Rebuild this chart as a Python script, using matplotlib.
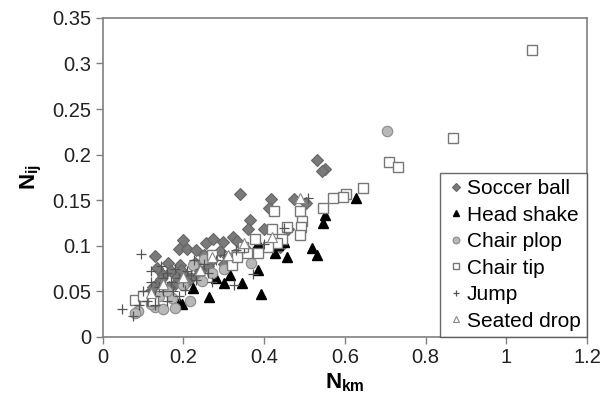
import matplotlib.pyplot as plt

plt.rcParams['font.family'] = ['Liberation Sans', 'DejaVu Sans']
plt.rcParams['mathtext.fontset'] = 'custom'
plt.rcParams['mathtext.rm'] = 'Liberation Sans'
plt.rcParams['mathtext.bf'] = 'Liberation Sans:bold'

# Nkm vs Nij for each test type
soccer_x = [0.531, 0.550, 0.543, 0.340, 0.417, 0.474, 0.503, 0.412, 0.365, 0.360, 0.400,
            0.200, 0.188, 0.210, 0.255, 0.273, 0.297, 0.322, 0.332, 0.310, 0.327, 0.129,
            0.161, 0.134, 0.191, 0.228, 0.270, 0.150, 0.170, 0.200, 0.220, 0.240, 0.260,
            0.140, 0.180, 0.120, 0.290, 0.350, 0.380, 0.250, 0.230, 0.440, 0.460, 0.300,
            0.145, 0.165, 0.185, 0.210, 0.235, 0.110, 0.125, 0.195]
soccer_y = [0.194, 0.184, 0.182, 0.157, 0.151, 0.151, 0.147, 0.141, 0.128, 0.119, 0.118,
            0.106, 0.096, 0.097, 0.103, 0.107, 0.104, 0.110, 0.105, 0.088, 0.088, 0.089,
            0.081, 0.076, 0.079, 0.081, 0.085, 0.068, 0.072, 0.070, 0.065, 0.072, 0.078,
            0.060, 0.058, 0.050, 0.094, 0.099, 0.095, 0.090, 0.095, 0.099, 0.118, 0.080,
            0.064, 0.055, 0.066, 0.060, 0.068, 0.046, 0.055, 0.073]

shake_x = [0.627, 0.550, 0.546, 0.518, 0.531, 0.456, 0.427, 0.384, 0.434, 0.384, 0.392,
           0.345, 0.300, 0.280, 0.263, 0.315, 0.223, 0.188, 0.196, 0.450]
shake_y = [0.152, 0.134, 0.125, 0.098, 0.090, 0.088, 0.092, 0.103, 0.101, 0.073, 0.047,
           0.059, 0.059, 0.065, 0.044, 0.068, 0.054, 0.037, 0.036, 0.104]

plop_x = [0.704, 0.367, 0.245, 0.216, 0.171, 0.129, 0.149, 0.087, 0.079, 0.223, 0.270,
          0.198, 0.140, 0.160, 0.300, 0.120, 0.180, 0.250, 0.330]
plop_y = [0.226, 0.081, 0.061, 0.039, 0.043, 0.033, 0.031, 0.028, 0.026, 0.079, 0.070,
          0.057, 0.045, 0.050, 0.075, 0.036, 0.032, 0.086, 0.091]

tip_x = [1.064, 0.868, 0.709, 0.731, 0.645, 0.603, 0.595, 0.571, 0.546, 0.489, 0.494,
         0.491, 0.489, 0.456, 0.419, 0.424, 0.444, 0.431, 0.409, 0.377, 0.357, 0.384,
         0.320, 0.332, 0.347, 0.079, 0.100, 0.125, 0.270]
tip_y = [0.315, 0.218, 0.192, 0.186, 0.163, 0.157, 0.154, 0.152, 0.142, 0.138, 0.127,
         0.121, 0.112, 0.121, 0.118, 0.138, 0.107, 0.103, 0.099, 0.107, 0.092, 0.092,
         0.079, 0.088, 0.099, 0.041, 0.045, 0.040, 0.090]

jump_x = [0.047, 0.074, 0.095, 0.508, 0.325, 0.372, 0.100, 0.120, 0.130, 0.140, 0.150,
          0.160, 0.170, 0.180, 0.190, 0.200, 0.210, 0.220, 0.230, 0.240, 0.250, 0.260,
          0.280, 0.300, 0.330, 0.350, 0.110, 0.130, 0.160, 0.190, 0.450, 0.400, 0.090,
          0.120, 0.150, 0.270, 0.175, 0.205, 0.145, 0.225]
jump_y = [0.031, 0.023, 0.091, 0.152, 0.057, 0.069, 0.050, 0.060, 0.045, 0.055, 0.065,
          0.070, 0.060, 0.075, 0.065, 0.060, 0.072, 0.068, 0.062, 0.075, 0.080, 0.070,
          0.085, 0.090, 0.095, 0.098, 0.040, 0.035, 0.040, 0.045, 0.120, 0.102, 0.035,
          0.072, 0.050, 0.060, 0.050, 0.052, 0.078, 0.085]

drop_x = [0.150, 0.200, 0.270, 0.310, 0.490, 0.350, 0.240, 0.120, 0.420]
drop_y = [0.058, 0.066, 0.088, 0.090, 0.152, 0.103, 0.073, 0.048, 0.110]

fig = plt.figure(figsize=(6.04, 4.07), dpi=100)
ax = fig.add_axes([0.170, 0.172, 0.802, 0.784])

ax.plot(soccer_x, soccer_y, 'D', ms=6.2, mfc='#7a7a7a', mec='#666666', mew=0.8,
        ls='none', label='Soccer ball')
ax.plot(shake_x, shake_y, '^', ms=7.5, mfc='black', mec='black', ls='none',
        label='Head shake')
ax.plot(plop_x, plop_y, 'o', ms=7.5, mfc='#b8b8b8', mec='#8a8a8a', mew=0.8,
        ls='none', label='Chair plop')
ax.plot(tip_x, tip_y, 's', ms=7.5, mfc='white', mec='#777777', mew=1.0,
        ls='none', label='Chair tip')
ax.plot(jump_x, jump_y, '+', ms=7.5, mec='#555555', mew=0.9, ls='none', label='Jump')
ax.plot(drop_x, drop_y, '^', ms=6.5, mfc='white', mec='#888888', mew=0.8,
        ls='none', label='Seated drop')

ax.set_xlim(0, 1.2)
ax.set_ylim(0, 0.35)
ax.set_xticks([0, 0.2, 0.4, 0.6, 0.8, 1.0, 1.2])
ax.set_xticklabels(['0', '0.2', '0.4', '0.6', '0.8', '1', '1.2'])
ax.set_yticks([0, 0.05, 0.1, 0.15, 0.2, 0.25, 0.3, 0.35])
ax.set_yticklabels(['0', '0.05', '0.1', '0.15', '0.2', '0.25', '0.3', '0.35'])
ax.tick_params(labelsize=14.5, length=5, width=1, direction='out',
               color='#808080', labelcolor='#222222', pad=3)
for s in ax.spines.values():
    s.set_color('#808080')
    s.set_linewidth(1.2)

ax.set_xlabel(r'$\mathbf{N_{km}}$', fontsize=16, labelpad=3)
ax.set_ylabel(r'$\mathbf{N_{ij}}$', fontsize=16, labelpad=6)

leg = ax.legend(loc='lower right', fontsize=15, frameon=True, fancybox=False,
                borderaxespad=0.0, handletextpad=0.1, handlelength=0.9,
                markerscale=0.65, labelspacing=0.36, borderpad=0.3)
leg.get_frame().set_edgecolor('#444444')
leg.get_frame().set_linewidth(1.0)

fig.savefig('out.png', dpi=100)
